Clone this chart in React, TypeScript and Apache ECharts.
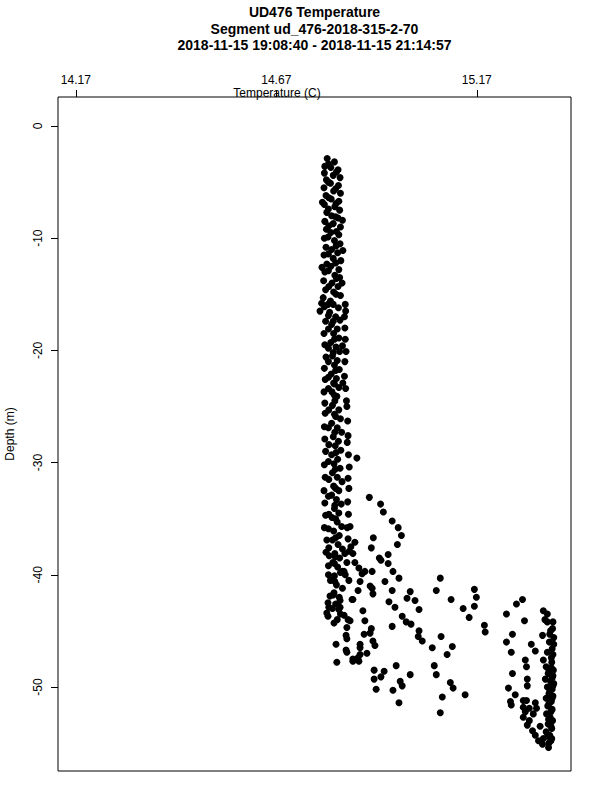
import React, { useEffect, useRef } from "react";
import * as echarts from "echarts";

const titleLines = [
  "UD476 Temperature",
  "Segment ud_476-2018-315-2-70",
  "2018-11-15 19:08:40 - 2018-11-15 21:14:57",
];
const xAxisName = "Temperature (C)";
const yAxisName = "Depth (m)";
const xTicks = [14.17, 14.67, 15.17];
const yTicks = [0, -10, -20, -30, -40, -50];
const xRange = [14.1256, 15.405];
const yRange = [-57.49, 2.585];

// [temperature (C), depth (m)]
const columnTop = [
  [14.797, -2.9], [14.815, -3.2], [14.791, -3.6], [14.806, -3.7], [14.824, -3.9], [14.79, -4.2],
  [14.812, -4.4], [14.829, -4.6], [14.795, -4.8], [14.805, -5.1], [14.825, -5.3], [14.789, -5.5],
  [14.813, -5.8], [14.83, -6.0], [14.794, -6.2], [14.807, -6.5], [14.826, -6.7], [14.785, -6.8],
  [14.79, -7.0], [14.816, -7.2], [14.828, -7.5], [14.796, -7.7], [14.808, -8.0], [14.824, -8.2],
  [14.835, -8.4], [14.791, -8.5], [14.812, -8.7], [14.83, -9.0], [14.795, -9.2], [14.806, -9.5],
  [14.826, -9.7], [14.79, -10.0], [14.815, -10.2], [14.829, -10.5], [14.794, -10.8], [14.808, -11.0],
  [14.836, -11.1], [14.823, -11.3], [14.789, -11.5], [14.812, -11.8], [14.831, -12.0], [14.796, -12.3],
  [14.806, -12.5], [14.784, -12.6], [14.826, -12.8], [14.791, -13.0], [14.816, -13.3], [14.828, -13.5],
  [14.788, -13.8], [14.809, -14.0], [14.834, -14.0], [14.824, -14.3], [14.793, -14.6], [14.813, -14.8],
  [14.83, -15.1], [14.787, -15.3], [14.805, -15.6], [14.842, -15.9], [14.783, -15.8],
  [14.8, -3.4], [14.82, -4.1], [14.8, -5.0], [14.818, -5.6], [14.801, -6.4], [14.819, -6.9],
  [14.8, -7.4], [14.818, -8.1], [14.801, -8.9], [14.82, -9.4], [14.799, -9.9], [14.819, -10.7],
  [14.8, -11.4], [14.818, -12.2], [14.8, -12.9], [14.82, -13.6], [14.801, -14.3], [14.819, -15.0],
  [14.799, -15.9],
];

const columnMid = [
  [14.812, -15.9], [14.825, -16.2], [14.803, -16.6], [14.818, -17.0], [14.829, -17.3], [14.808, -17.7],
  [14.822, -18.1], [14.813, -18.5], [14.826, -18.9], [14.806, -19.3], [14.819, -19.7], [14.828, -20.1],
  [14.81, -20.5], [14.822, -20.9], [14.815, -21.3], [14.827, -21.7], [14.807, -22.1], [14.82, -22.5],
  [14.813, -22.9], [14.826, -23.3], [14.809, -23.7], [14.821, -24.1], [14.816, -24.5],
  [14.79, -16.1], [14.793, -17.4], [14.789, -18.5], [14.791, -19.5], [14.794, -20.6], [14.79, -21.6],
  [14.792, -22.6], [14.789, -23.7], [14.791, -24.7], [14.779, -16.5],
  [14.843, -16.5], [14.841, -18.0], [14.842, -19.0], [14.844, -20.1], [14.841, -21.0], [14.84, -22.3],
  [14.843, -23.4], [14.845, -24.5], [14.835, -19.6], [14.836, -22.9], [14.84, -17.0],
  [14.8, -16.9], [14.812, -17.4], [14.8, -18.1], [14.815, -19.0], [14.8, -19.8], [14.812, -20.2],
  [14.8, -21.0], [14.818, -21.8], [14.8, -22.4], [14.815, -23.0], [14.8, -23.4], [14.815, -24.0],
];

const columnDeep = [
  [14.81, -24.9], [14.826, -25.3], [14.815, -25.7], [14.83, -26.1], [14.808, -26.5], [14.822, -26.9],
  [14.833, -27.3], [14.812, -27.7], [14.825, -28.1], [14.817, -28.5], [14.831, -28.9], [14.808, -29.3],
  [14.823, -29.7], [14.814, -30.1], [14.829, -30.5], [14.81, -30.9], [14.822, -31.3], [14.834, -31.7],
  [14.813, -32.1], [14.826, -32.5], [14.808, -32.9], [14.82, -33.3], [14.832, -33.7], [14.815, -34.1],
  [14.826, -34.5], [14.809, -34.9], [14.822, -35.3], [14.833, -35.7], [14.813, -36.1], [14.827, -36.5],
  [14.81, -36.9], [14.824, -37.3], [14.835, -37.7], [14.816, -38.1], [14.828, -38.5], [14.811, -38.9],
  [14.823, -39.3], [14.834, -39.7], [14.815, -40.1],
  [14.792, -25.6], [14.79, -26.8], [14.791, -27.9], [14.793, -29.0], [14.79, -30.2], [14.792, -31.3],
  [14.789, -32.5], [14.791, -33.6], [14.793, -34.7], [14.79, -35.8], [14.796, -36.9], [14.794, -38.0],
  [14.8, -39.2],
  [14.846, -25.0], [14.848, -26.3], [14.849, -27.6], [14.847, -28.2], [14.85, -29.3], [14.852, -30.4],
  [14.849, -31.4], [14.851, -32.3], [14.848, -33.5], [14.85, -34.6], [14.847, -35.8], [14.849, -36.8],
  [14.852, -37.9], [14.846, -38.9], [14.871, -29.6], [14.854, -35.7],
  [14.801, -25.3], [14.818, -25.9], [14.8, -26.9], [14.816, -27.3], [14.801, -28.4], [14.819, -29.1],
  [14.8, -29.9], [14.817, -30.6], [14.801, -31.5], [14.818, -32.3], [14.8, -33.0], [14.816, -33.8],
  [14.801, -34.6], [14.818, -35.0], [14.8, -35.9], [14.818, -36.7], [14.801, -37.6], [14.817, -38.4],
  [14.802, -38.3],
];

const transitionZone = [
  [14.805, -40.5], [14.82, -40.9], [14.835, -41.2], [14.812, -41.8], [14.827, -42.0], [14.8, -40.0],
  [14.842, -40.0], [14.818, -42.6], [14.81, -43.0], [14.83, -43.5], [14.822, -44.0], [14.815, -39.0],
  [14.83, -39.8], [14.816, -40.6], [14.814, -41.6], [14.804, -41.9], [14.826, -43.1], [14.796, -43.4],
  [14.799, -42.5], [14.829, -42.9], [14.799, -43.7], [14.801, -42.9], [14.814, -44.3], [14.829, -42.3],
  [14.839, -43.6], [14.849, -44.0], [14.854, -44.1], [14.846, -44.7], [14.844, -45.4], [14.846, -45.7],
  [14.819, -46.2], [14.844, -46.7], [14.846, -46.9], [14.821, -47.8], [14.861, -47.7], [14.876, -47.7],
  [14.861, -47.5], [14.874, -47.4], [14.879, -47.1], [14.896, -47.0], [14.879, -46.5], [14.879, -46.2],
  [14.916, -46.3], [14.911, -45.9], [14.889, -45.3], [14.907, -44.8], [14.904, -45.2], [14.891, -44.1],
  [14.886, -43.2], [14.861, -42.2], [14.859, -42.2], [14.874, -41.4], [14.911, -41.7], [14.904, -41.0],
  [14.909, -41.2], [14.879, -40.6], [14.884, -39.9], [14.891, -39.7], [14.909, -39.7], [14.851, -40.5],
  [14.876, -39.4], [14.866, -38.9], [14.861, -38.1], [14.866, -37.1], [14.856, -37.5], [14.841, -38.1],
  [14.839, -39.7],
];

const scatterMid = [
  [14.902, -33.1], [14.93, -33.7], [14.937, -34.4], [14.959, -35.2], [14.974, -35.8], [14.982, -36.5],
  [14.972, -37.3], [14.912, -36.7], [14.907, -37.6], [14.949, -38.2], [14.927, -38.5], [14.931, -38.7],
  [14.949, -39.0], [14.961, -39.7], [14.976, -40.3], [14.941, -40.6], [14.959, -41.4], [15.004, -41.5],
  [14.996, -42.1], [15.016, -42.3], [14.951, -42.4], [14.966, -42.9], [15.026, -43.1], [14.984, -43.7],
  [14.994, -44.2], [15.006, -44.4], [14.959, -44.6], [15.026, -45.0], [15.024, -45.5], [15.034, -45.9],
  [15.059, -46.5], [15.081, -45.5], [15.109, -46.4], [15.096, -47.1], [15.079, -40.3], [15.069, -41.4],
  [15.106, -42.2], [15.136, -43.0], [15.151, -43.8], [15.164, -41.3], [15.169, -42.0], [15.164, -42.8],
  [15.189, -44.5], [15.191, -45.1],
];

const scatterDeep = [
  [15.064, -48.1], [15.069, -48.9], [15.104, -49.6], [15.111, -50.1], [15.084, -50.9], [15.141, -50.7],
  [15.079, -52.3], [14.969, -48.1], [15.004, -48.9], [14.979, -49.5], [14.984, -49.9], [14.961, -50.3],
  [14.976, -51.4], [14.914, -48.5], [14.939, -48.6], [14.931, -49.1], [14.914, -49.3], [14.919, -50.2],
];

const clusterRight = [
  [15.244, -43.5], [15.269, -42.6], [15.284, -42.2], [15.289, -44.1], [15.259, -45.3], [15.244, -46.0],
  [15.256, -46.9], [15.306, -46.2], [15.316, -46.8], [15.291, -47.6], [15.294, -48.2], [15.259, -48.8],
  [15.296, -49.3], [15.296, -49.9], [15.249, -50.1], [15.266, -50.7], [15.286, -51.2], [15.254, -51.3],
  [15.256, -51.6],
  [15.336, -43.2], [15.346, -43.5], [15.36, -44.2], [15.346, -44.2], [15.354, -45.0], [15.334, -45.4],
  [15.362, -45.6], [15.351, -46.0], [15.362, -46.2], [15.346, -46.9], [15.36, -47.1], [15.336, -47.6],
  [15.357, -47.8],
  [15.343, -48.2], [15.356, -48.3], [15.361, -48.5], [15.348, -48.8], [15.36, -49.0], [15.341, -49.3],
  [15.354, -49.5], [15.362, -49.7], [15.346, -50.0], [15.358, -50.2], [15.35, -50.6], [15.36, -50.8],
  [15.343, -51.0],
  [15.356, -51.3], [15.347, -51.7], [15.358, -52.0], [15.344, -52.4], [15.353, -52.7], [15.359, -53.0],
  [15.348, -53.3], [15.357, -53.7], [15.343, -54.0], [15.352, -54.3], [15.357, -54.6], [15.35, -55.0],
  [15.355, -54.8],
  [15.294, -51.2], [15.301, -51.9], [15.319, -51.9], [15.286, -52.7], [15.296, -53.4], [15.291, -52.2],
  [15.301, -53.0], [15.309, -53.9], [15.316, -54.3], [15.324, -54.8], [15.336, -54.6], [15.334, -55.1],
  [15.349, -55.4], [15.286, -51.8], [15.311, -52.4], [15.328, -53.5], [15.316, -51.4],
  [15.352, -45.3], [15.358, -46.6], [15.356, -47.4], [15.35, -48.5], [15.358, -49.2], [15.36, -49.9],
  [15.352, -50.4], [15.358, -51.0], [15.35, -51.5], [15.355, -52.2], [15.349, -52.9], [15.355, -53.5],
  [15.347, -54.4], [15.359, -44.8], [15.34, -44.0],
];

const FONT = "Liberation Sans, Arial, Helvetica, sans-serif";

export default function App() {
  const ref = useRef<HTMLDivElement>(null);

  useEffect(() => {
    if (!ref.current) return;
    const chart = echarts.init(ref.current, null, { renderer: "svg" });
    const allPoints = [
      ...columnTop,
      ...columnMid,
      ...columnDeep,
      ...transitionZone,
      ...scatterMid,
      ...scatterDeep,
      ...clusterRight,
    ];
    chart.setOption({
      animation: false,
      backgroundColor: "#ffffff",
      grid: {
        left: 58,
        right: 29,
        top: 97,
        bottom: 29,
        show: true,
        borderColor: "#000",
        borderWidth: 1,
        containLabel: false,
        outerBoundsMode: "none",
      },
      xAxis: {
        type: "value",
        position: "top",
        min: xRange[0],
        max: xRange[1],
        axisLine: { show: false, onZero: false },
        splitLine: { show: false },
        axisTick: {
          show: true,
          inside: false,
          length: 7,
          lineStyle: { color: "#000", width: 1 },
          customValues: xTicks,
        },
        axisLabel: {
          show: true,
          margin: 11,
          fontSize: 12,
          fontFamily: FONT,
          color: "#000",
          customValues: xTicks,
          formatter: (v: number) => v.toFixed(2),
        },
      },
      yAxis: {
        type: "value",
        position: "left",
        min: yRange[0],
        max: yRange[1],
        axisLine: { show: false, onZero: false },
        splitLine: { show: false },
        axisTick: {
          show: true,
          inside: false,
          length: 7,
          lineStyle: { color: "#000", width: 1 },
          customValues: yTicks,
        },
        axisLabel: {
          show: true,
          rotate: 90,
          margin: 14,
          fontSize: 12,
          fontFamily: FONT,
          color: "#000",
          customValues: yTicks,
          formatter: (v: number) => String(Math.round(v)),
        },
      },
      graphic: {
        elements: [
          ...titleLines.map((t, i) => ({
            type: "text",
            x: 314.5,
            y: 12 + i * 16.5,
            style: {
              text: t,
              font: `bold 14px ${FONT}`,
              fill: "#000",
              textAlign: "center",
              textVerticalAlign: "middle",
            },
          })),
          {
            type: "text",
            x: 277,
            y: 92.5,
            style: {
              text: xAxisName,
              font: `12px ${FONT}`,
              fill: "#000",
              textAlign: "center",
              textVerticalAlign: "middle",
            },
          },
          {
            type: "text",
            x: 10,
            y: 434,
            rotation: Math.PI / 2,
            style: {
              text: yAxisName,
              font: `12px ${FONT}`,
              fill: "#000",
              textAlign: "center",
              textVerticalAlign: "middle",
            },
          },
        ],
      },
      series: [
        {
          type: "scatter",
          data: allPoints,
          symbol: "circle",
          symbolSize: 7,
          itemStyle: { color: "#000", opacity: 1 },
          emphasis: { disabled: true },
        },
      ],
    });
    return () => chart.dispose();
  }, []);

  return (
    <div
      ref={ref}
      style={{ position: "fixed", left: 0, top: 0, width: 600, height: 800 }}
    />
  );
}
